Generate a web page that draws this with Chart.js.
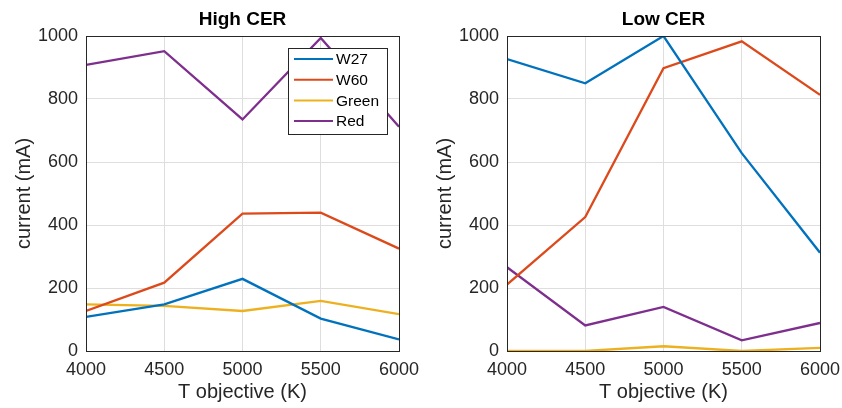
<!DOCTYPE html>
<html>
<head>
<meta charset="utf-8">
<script src="https://cdn.jsdelivr.net/npm/chart.js@4"></script>
<style>
  body { margin: 0; background: #fff; }
  .panel { position: absolute; top: 0; width: 421px; height: 408px; }
</style>
</head>
<body>
<div class="panel" style="left:0"><canvas id="highChart" width="421" height="408"></canvas></div>
<div class="panel" style="left:421px"><canvas id="lowChart" width="421" height="408"></canvas></div>
<script>
const temps = [4000, 4500, 5000, 5500, 6000];
const seriesNames = ["W27", "W60", "Green", "Red"];
const seriesColors = ["#0072bd", "#dc4a1c", "#edb120", "#7e2f8e"];

// High CER
const highW27 = [108, 148, 229, 103, 37];
const highW60 = [127, 217, 436, 439, 325];
const highGreen = [148, 143, 127, 159, 117];
const highRed = [908, 952, 735, 994, 712];

// Low CER
const lowW27 = [927, 850, 1000, 628, 312];
const lowW60 = [211, 425, 898, 983, 813];
const lowGreen = [0, 0, 15, 0, 10];
const lowRed = [266, 81, 140, 34, 89];

const FONT = "'Liberation Sans', Arial, sans-serif";

const framePlugin = {
  id: "frame",
  afterDraw(chart, args, opts) {
    const ctx = chart.ctx;
    const a = chart.chartArea;
    ctx.save();
    // title
    ctx.fillStyle = "#000";
    ctx.font = "bold 19px " + FONT;
    ctx.textAlign = "center";
    ctx.textBaseline = "middle";
    ctx.fillText(opts.title, (a.left + a.right) / 2, 20);
    // box
    ctx.strokeStyle = "#262626";
    ctx.lineWidth = 1;
    ctx.strokeRect(Math.round(a.left) + 0.5, Math.round(a.top) + 0.5,
      Math.round(a.right - a.left), Math.round(a.bottom - a.top));
    // legend
    if (opts.legend) {
      const w = 99, rowH = 20.7;
      const x0 = a.right - 12 - w, y0 = a.top + 12;
      const h = rowH * chart.data.datasets.length + 3;
      ctx.fillStyle = "#fff";
      ctx.fillRect(x0, y0, w, h);
      ctx.strokeRect(Math.round(x0) + 0.5, Math.round(y0) + 0.5, w, Math.round(h));
      ctx.font = "15.5px " + FONT;
      ctx.textAlign = "left";
      chart.data.datasets.forEach((ds, i) => {
        const cy = y0 + 11 + i * rowH;
        ctx.strokeStyle = ds.borderColor;
        ctx.lineWidth = 2;
        ctx.beginPath();
        ctx.moveTo(x0 + 6, cy);
        ctx.lineTo(x0 + 45, cy);
        ctx.stroke();
        ctx.fillStyle = "#000";
        ctx.fillText(ds.label, x0 + 48, cy + 1);
      });
    }
    ctx.restore();
  }
};

function makeChart(id, title, values, showLegend) {
  const datasets = values.map((vals, i) => ({
    label: seriesNames[i],
    data: temps.map((t, j) => ({ x: t, y: vals[j] })),
    borderColor: seriesColors[i],
    backgroundColor: seriesColors[i],
    borderWidth: 2.3,
    pointRadius: 0,
    tension: 0,
    fill: false
  }));

  new Chart(document.getElementById(id), {
    type: "line",
    data: { datasets },
    options: {
      responsive: false,
      animation: false,
      layout: { padding: { left: 0, right: 22, top: 36, bottom: 0 } },
      plugins: {
        legend: { display: false },
        tooltip: { enabled: false },
        frame: { title, legend: showLegend }
      },
      scales: {
        x: {
          type: "linear",
          min: 4000,
          max: 6000,
          afterFit: (s) => { s.height = 57; s.paddingRight = 0; s.paddingLeft = 0; },
          ticks: { stepSize: 500, color: "#262626", font: { family: FONT, size: 18 }, padding: 8, maxRotation: 0,
            callback: (v) => String(v) },
          grid: { color: "#dedede", drawTicks: false },
          border: { display: false },
          title: { display: true, text: "T objective (K)", color: "#262626", font: { family: FONT, size: 20 }, padding: { top: 3 } }
        },
        y: {
          min: 0,
          max: 1000,
          afterFit: (s) => { s.width = 86; s.paddingTop = 0; s.paddingBottom = 0; },
          ticks: { stepSize: 200, color: "#262626", font: { family: FONT, size: 18 }, padding: 8,
            callback: (v) => String(v) },
          grid: { color: "#dedede", drawTicks: false },
          border: { display: false },
          title: { display: true, text: "current (mA)", color: "#262626", font: { family: FONT, size: 20 }, padding: { top: 12 } }
        }
      }
    },
    plugins: [framePlugin]
  });
}

makeChart("highChart", "High CER", [highW27, highW60, highGreen, highRed], true);
makeChart("lowChart", "Low CER", [lowW27, lowW60, lowGreen, lowRed], false);
</script>
</body>
</html>
